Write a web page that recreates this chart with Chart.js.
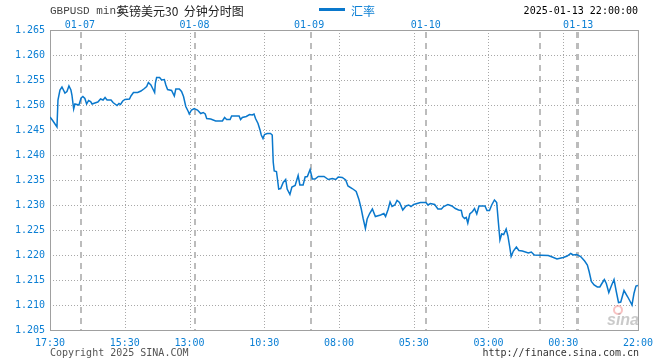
<!DOCTYPE html>
<html>
<head>
<meta charset="utf-8">
<script src="https://cdn.jsdelivr.net/npm/chart.js@4/dist/chart.umd.min.js"></script>
<style>
  html, body { margin: 0; padding: 0; background: #fff; }
  canvas { display: block; }
</style>
</head>
<body>
<canvas id="c" width="660" height="360"></canvas>
<script>
// ──── 数据 ────────────────────────────────────────────
// 30分钟K线序号（0 = 第一根）
const barIdx = [
  0.0, 1.2, 2.8, 3.2, 4.0, 4.8, 6.0, 6.8, 7.6, 8.4, 8.8, 9.5, 10.0, 11.6, 12.5, 13.2, 14.0, 14.7, 15.5, 16.3,
  16.9, 18.0, 19.2, 20.3, 21.3, 22.1, 22.9, 24.5, 25.3, 26.9, 27.7, 28.3, 29.2, 30.1, 31.9, 32.5, 33.5, 35.2, 36.5, 37.9,
  38.8, 39.5, 40.5, 41.3, 42.0, 42.3, 42.8, 44.0, 44.8, 45.9, 46.5, 47.2, 48.8, 49.9, 50.5, 51.9, 52.8, 53.6, 54.5, 55.5,
  55.9, 56.8, 57.9, 59.2, 60.5, 61.5, 62.3, 62.9, 64.5, 66.5, 69.2, 70.1, 70.9, 72.3, 72.9, 75.9, 76.5, 77.2, 78.8, 80.1,
  81.2, 81.9, 82.5, 83.5, 84.3, 84.8, 85.5, 86.1, 87.2, 88.5, 89.2, 89.6, 90.0, 90.9, 91.2, 91.8, 92.6, 93.6, 94.6, 95.2,
  96.3, 97.1, 98.4, 99.6, 100.3, 101.6, 102.4, 103.3, 104.4, 105.3, 106.4, 107.7, 110.0, 111.7, 113.3, 114.7, 115.7, 117.3, 118.7, 119.6,
  121.3, 122.9, 124.0, 124.9, 125.7, 126.6, 127.3, 128.3, 129.4, 130.6, 132.7, 134.0, 134.7, 135.7, 136.5, 137.3, 138.4, 139.3, 140.3, 141.6,
  142.9, 144.0, 144.9, 146.0, 148.7, 150.9, 151.7, 152.7, 154.4, 155.7, 157.1, 158.0, 159.7, 161.3, 162.7, 164.0, 165.1, 165.6, 166.4, 167.1,
  167.7, 168.5, 169.6, 170.4, 171.3, 172.2, 174.6, 175.4, 176.4, 177.3, 178.4, 179.3, 180.0, 180.6, 181.3, 182.1, 183.1, 183.8, 184.5, 185.1,
  186.0, 187.2, 188.2, 189.6, 192.0, 193.2, 194.4, 200.0, 201.6, 203.5, 206.0, 207.6, 209.0, 210.0, 211.4, 213.0, 214.6, 215.7, 216.4, 217.3,
  218.4, 219.7, 220.7, 221.4, 222.5, 223.3, 224.3, 225.3, 226.4, 227.3, 228.2, 229.1, 230.4, 231.8, 233.2, 233.6, 234.4, 235.2, 236.0
];
// 英镑兑美元汇率
const rates = [
  1.2476, 1.2468, 1.2456, 1.2510, 1.2530, 1.2536, 1.2524, 1.2527, 1.2538, 1.2530, 1.2520, 1.2492, 1.2502, 1.2500, 1.2514, 1.2517, 1.2513, 1.2502, 1.2509, 1.2507,
  1.2502, 1.2504, 1.2506, 1.2512, 1.2510, 1.2515, 1.2510, 1.2510, 1.2505, 1.2499, 1.2503, 1.2501, 1.2508, 1.2511, 1.2512, 1.2518, 1.2525, 1.2525, 1.2528, 1.2533,
  1.2537, 1.2545, 1.2540, 1.2532, 1.2525, 1.2544, 1.2555, 1.2555, 1.2550, 1.2551, 1.2540, 1.2531, 1.2529, 1.2518, 1.2532, 1.2532, 1.2527, 1.2517, 1.2497, 1.2487,
  1.2482, 1.2490, 1.2493, 1.2490, 1.2483, 1.2485, 1.2482, 1.2473, 1.2472, 1.2468, 1.2468, 1.2475, 1.2471, 1.2471, 1.2478, 1.2478, 1.2471, 1.2475, 1.2477, 1.2481,
  1.2480, 1.2482, 1.2473, 1.2463, 1.2450, 1.2440, 1.2433, 1.2441, 1.2443, 1.2443, 1.2440, 1.2386, 1.2368, 1.2367, 1.2356, 1.2332, 1.2333, 1.2345, 1.2351, 1.2332,
  1.2321, 1.2336, 1.2339, 1.2359, 1.2340, 1.2340, 1.2356, 1.2357, 1.2371, 1.2352, 1.2352, 1.2357, 1.2357, 1.2351, 1.2353, 1.2351, 1.2356, 1.2355, 1.2350, 1.2338,
  1.2333, 1.2327, 1.2311, 1.2293, 1.2273, 1.2253, 1.2272, 1.2283, 1.2292, 1.2277, 1.2280, 1.2283, 1.2277, 1.2291, 1.2306, 1.2297, 1.2300, 1.2309, 1.2305, 1.2290,
  1.2298, 1.2300, 1.2297, 1.2301, 1.2305, 1.2305, 1.2300, 1.2303, 1.2301, 1.2292, 1.2292, 1.2297, 1.2301, 1.2298, 1.2293, 1.2290, 1.2289, 1.2277, 1.2273, 1.2275,
  1.2264, 1.2282, 1.2287, 1.2293, 1.2282, 1.2298, 1.2298, 1.2289, 1.2289, 1.2300, 1.2310, 1.2305, 1.2264, 1.2230, 1.2242, 1.2241, 1.2252, 1.2238, 1.2217, 1.2197,
  1.2208, 1.2216, 1.2209, 1.2208, 1.2204, 1.2206, 1.2200, 1.2199, 1.2196, 1.2192, 1.2195, 1.2198, 1.2203, 1.2200, 1.2201, 1.2197, 1.2188, 1.2180, 1.2167, 1.2147,
  1.2140, 1.2136, 1.2136, 1.2142, 1.2151, 1.2143, 1.2125, 1.2138, 1.2151, 1.2127, 1.2105, 1.2106, 1.2129, 1.2117, 1.2104, 1.2100, 1.2123, 1.2138, 1.2139
];

// 时间刻度
const timeTicks = [0, 30, 56, 86, 116, 146, 176, 206, 236];
const timeLabels = ["17:30", "15:30", "13:00", "10:30", "08:00", "05:30", "03:00", "00:30", "22:00"];
// 日分隔线与日期标签
const dayBreaks = [12.4, 58.4, 104.8, 150.8, 196.8, 211.4, 212.0];
const dateTicks = [12.0, 58.0, 104.0, 150.8, 212.0];
const dateLabels = ["01-07", "01-08", "01-09", "01-10", "01-13"];

const Y_MIN = 1.205, Y_MAX = 1.265, Y_STEP = 0.005;

const BLUE = "#0b7fd4";
const LINE = "#0a78cc";
const MONO = '"DejaVu Sans Mono", monospace';
const CJK = '"Noto Sans CJK SC", sans-serif';

// ──── 网格 / 边框 / 文字 ──────────────────────────────
const sinaFrame = {
  id: "sinaFrame",
  beforeDatasetsDraw(chart) {
    const { ctx, chartArea: a, scales: { x, y } } = chart;
    ctx.save();
    // 点状网格
    ctx.strokeStyle = "#a8a8a8";
    ctx.lineWidth = 1;
    ctx.setLineDash([1, 2]);
    for (let v = Y_MIN + Y_STEP; v < Y_MAX - Y_STEP / 2; v += Y_STEP) {
      const py = Math.round(y.getPixelForValue(v)) + 0.5;
      ctx.beginPath(); ctx.moveTo(a.left, py); ctx.lineTo(a.right, py); ctx.stroke();
    }
    timeTicks.slice(1, -1).forEach((t) => {
      const px = Math.round(x.getPixelForValue(t)) + 0.5;
      ctx.beginPath(); ctx.moveTo(px, a.top); ctx.lineTo(px, a.bottom); ctx.stroke();
    });
    // 日分隔虚线
    ctx.strokeStyle = "#bcbcbc";
    ctx.lineWidth = 2;
    ctx.setLineDash([6, 5]);
    dayBreaks.forEach((d) => {
      const px = Math.round(x.getPixelForValue(d));
      ctx.beginPath(); ctx.moveTo(px, a.top + 2); ctx.lineTo(px, a.bottom); ctx.stroke();
    });
    ctx.setLineDash([]);
    // 边框
    ctx.lineWidth = 1;
    ctx.strokeStyle = "#a0a0a0";
    ctx.strokeRect(a.left + 0.5, a.top + 0.5, a.right - a.left, a.bottom - a.top);
    ctx.restore();
  },
  afterDraw(chart) {
    const { ctx, scales: { x } } = chart;
    ctx.save();
    ctx.textBaseline = "middle";
    // 标题
    ctx.fillStyle = "#444";
    ctx.font = '11px "Liberation Mono", monospace';
    ctx.textAlign = "left";
    ctx.fillText("GBPUSD min3", 50, 11);
    ctx.fillStyle = "#222";
    ctx.font = "12px " + CJK;
    ctx.fillText("英镑美元30  分钟分时图", 117, 11);
    // 图例
    ctx.fillStyle = LINE;
    ctx.fillRect(319, 8, 26, 3);
    ctx.fillStyle = BLUE;
    ctx.fillText("汇率", 351, 11);
    // 时间戳
    ctx.fillStyle = "#000";
    ctx.font = "10px " + MONO;
    ctx.textAlign = "right";
    ctx.fillText("2025-01-13 22:00:00", 638, 11);
    // 日期标签
    ctx.fillStyle = BLUE;
    ctx.textAlign = "center";
    dateTicks.forEach((d, i) => ctx.fillText(dateLabels[i], x.getPixelForValue(d), 25));
    // 底部版权
    ctx.fillStyle = "#555";
    ctx.textAlign = "left";
    ctx.fillText("Copyright 2025 SINA.COM", 50, 353);
    ctx.fillStyle = "#333";
    ctx.textAlign = "right";
    ctx.fillText("http://finance.sina.com.cn", 639, 353);
    // 水印
    ctx.strokeStyle = "rgba(240,120,120,0.45)";
    ctx.lineWidth = 2;
    ctx.beginPath(); ctx.arc(618, 310, 4, 0, Math.PI * 2); ctx.stroke();
    ctx.fillStyle = "rgba(150,150,150,0.5)";
    ctx.font = 'italic bold 16px "Liberation Sans", sans-serif';
    ctx.fillText("sina", 639, 321);
    ctx.restore();
  },
};

const points = barIdx.map((b, i) => ({ x: b, y: rates[i] }));

new Chart(document.getElementById("c").getContext("2d"), {
  type: "line",
  data: {
    datasets: [{
      label: "汇率",
      data: points,
      borderColor: LINE,
      borderWidth: 1.5,
      pointRadius: 0,
      tension: 0,
      fill: false,
    }],
  },
  options: {
    responsive: false,
    animation: false,
    devicePixelRatio: 1,
    layout: { padding: { top: 30, right: 20, left: 0, bottom: 0 } },
    plugins: { legend: { display: false }, title: { display: false }, tooltip: { enabled: false } },
    scales: {
      x: {
        type: "linear",
        min: 0,
        max: 236,
        afterBuildTicks: (axis) => { axis.ticks = timeTicks.map((v) => ({ value: v })); },
        afterFit: (axis) => { axis.height = 30; },
        grid: { display: false, drawTicks: false },
        border: { display: false },
        ticks: {
          autoSkip: false,
          maxRotation: 0,
          padding: 7,
          color: BLUE,
          font: { family: MONO, size: 10 },
          callback: (v, i) => timeLabels[i],
        },
      },
      y: {
        min: Y_MIN,
        max: Y_MAX,
        afterFit: (axis) => { axis.width = 50; },
        grid: { display: false, drawTicks: false },
        border: { display: false },
        ticks: {
          stepSize: Y_STEP,
          padding: 5,
          color: BLUE,
          font: { family: MONO, size: 10 },
          callback: (v) => Number(v).toFixed(3),
        },
      },
    },
  },
  plugins: [sinaFrame],
});
</script>
</body>
</html>
